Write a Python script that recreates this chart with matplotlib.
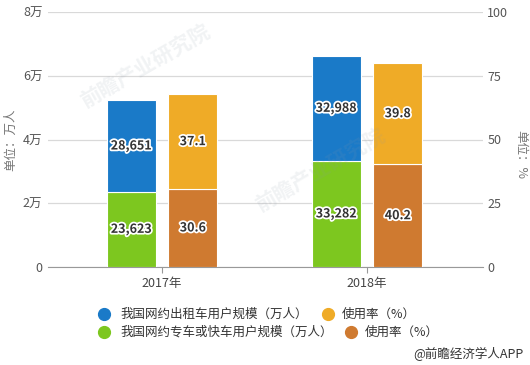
import matplotlib
matplotlib.use("Agg")
import matplotlib.pyplot as plt
import matplotlib.patheffects as pe
from matplotlib.lines import Line2D

plt.rcParams['font.family'] = ['Noto Sans CJK SC', 'DejaVu Sans']

years = ["2017年", "2018年"]
taxi_users = [28651, 32988]          # 我国网约出租车用户规模（万人）
special_users = [23623, 33282]       # 我国网约专车或快车用户规模（万人）
taxi_rate = [37.1, 39.8]             # 使用率（%）
special_rate = [30.6, 40.2]          # 使用率（%）
left_ticks = [0, 20000, 40000, 60000, 80000]
left_labels = ["0", "2万", "4万", "6万", "8万"]
right_ticks = [0, 25, 50, 75, 100]
legend_labels = ["我国网约出租车用户规模（万人）", "使用率（%）",
                 "我国网约专车或快车用户规模（万人）", "使用率（%）"]

c_blue = "#1a7ac8"
c_yellow = "#efab27"
c_green = "#7dc71f"
c_brown = "#cf7a30"

W, H = 530, 365
fig = plt.figure(figsize=(W / 100, H / 100), dpi=100)
ax = fig.add_axes([48 / W, (H - 267) / H, (483 - 48) / W, 255 / H])
ax2 = ax.twinx()

x = list(range(len(years)))
off = 0.15
bw = 0.24
xl = [x0 - off for x0 in x]
xr = [x0 + off for x0 in x]

ax.bar(xl, special_users, bw, color=c_green, edgecolor="white", linewidth=0.8, zorder=3)
ax.bar(xl, taxi_users, bw, bottom=special_users, color=c_blue, edgecolor="white", linewidth=0.8, zorder=3)
ax2.bar(xr, special_rate, bw, color=c_brown, edgecolor="white", linewidth=0.8, zorder=3)
ax2.bar(xr, taxi_rate, bw, bottom=special_rate, color=c_yellow, edgecolor="white", linewidth=0.8, zorder=3)

stroke = [pe.withStroke(linewidth=2.5, foreground="white")]
lab_kw = dict(ha="center", va="center", fontsize=9, fontweight="bold", color="#333333",
              path_effects=stroke, zorder=5)
for i in range(len(years)):
    ax.text(xl[i], special_users[i] / 2, f"{special_users[i]:,}", **lab_kw)
    ax.text(xl[i], special_users[i] + taxi_users[i] / 2, f"{taxi_users[i]:,}", **lab_kw)
    ax2.text(xr[i], special_rate[i] / 2, f"{special_rate[i]}", **lab_kw)
    ax2.text(xr[i], special_rate[i] + taxi_rate[i] / 2, f"{taxi_rate[i]}", **lab_kw)

ax.set_xlim(-114 / 205, 321 / 205)
ax.set_ylim(0, 80000)
ax2.set_ylim(0, 100)
ax.set_yticks(left_ticks)
ax.set_yticklabels(left_labels)
ax2.set_yticks(right_ticks)
ax2.set_yticklabels([str(t) for t in right_ticks])
ax.set_xticks(x)
ax.set_xticklabels(years)

ax.yaxis.grid(True, color="#d9d9d9", linewidth=0.9, zorder=0)
ax.set_axisbelow(True)
for a in (ax, ax2):
    for s in ("top", "left", "right", "bottom"):
        a.spines[s].set_visible(False)
ax.spines["bottom"].set_visible(True)
ax.spines["bottom"].set_color("#999999")
ax.tick_params(axis="y", length=0, pad=4, labelsize=9, labelcolor="#555555")
ax2.tick_params(axis="y", length=0, pad=3, labelsize=9, labelcolor="#555555")
ax.tick_params(axis="x", length=4, color="#999999", pad=3, labelsize=9, labelcolor="#444444")

fig.text(11 / W, 1 - 140 / H, "单位：万人", rotation=90, ha="center", va="center",
         fontsize=9, color="#777777")
fig.text(521 / W, 1 - 155 / H, "单位：%", rotation=-90, ha="center", va="center",
         fontsize=9, color="#777777")

# faint watermark
wm_kw = dict(fontsize=15, color="#8a99a8", alpha=0.12, rotation=30, ha="center",
             va="center", fontweight="bold", zorder=1)
fig.text(145 / W, 1 - 66 / H, "前瞻产业研究院", **wm_kw)
fig.text(320 / W, 1 - 170 / H, "前瞻产业研究院", **wm_kw)

# legend
items = [(104, 314, c_blue, 120, legend_labels[0]),
         (328, 314, c_yellow, 342, legend_labels[1]),
         (104, 332, c_green, 120, legend_labels[2]),
         (351, 332, c_brown, 365, legend_labels[3])]
for mx, my, col, tx, lab in items:
    fig.add_artist(Line2D([mx / W], [1 - my / H], marker="o", markersize=8.5, color=col,
                          linestyle="none", transform=fig.transFigure))
    fig.text(tx / W, 1 - my / H, lab, ha="left", va="center", fontsize=9, color="#333333")

fig.text(523 / W, 1 - 354 / H, "@前瞻经济学人APP", ha="right", va="center",
         fontsize=9, color="#333333")

fig.savefig("out.png", dpi=100)
